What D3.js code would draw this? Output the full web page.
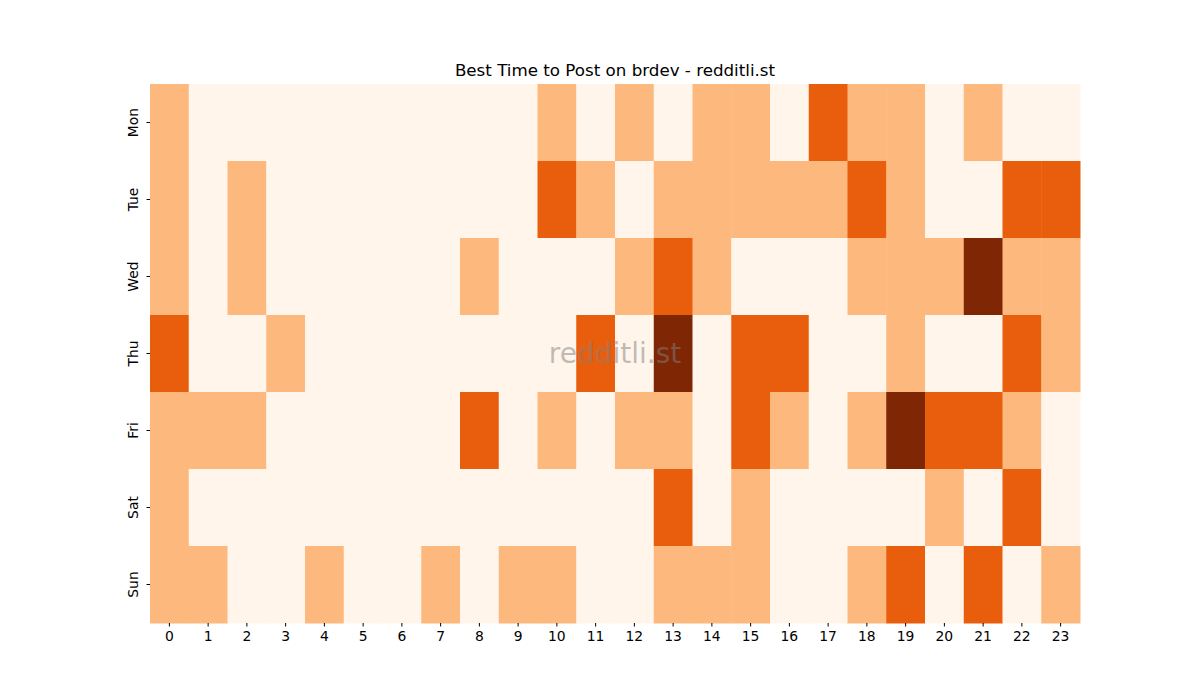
<!DOCTYPE html>
<html>
<head>
<meta charset="utf-8">
<script src="https://cdn.jsdelivr.net/npm/d3@7"></script>
<style>
  body { margin: 0; background: #fff; }
  text { font-family: "DejaVu Sans", sans-serif; }
</style>
</head>
<body>
<script>
// data: activity level per weekday x hour (0..3)
const days = ["Mon", "Tue", "Wed", "Thu", "Fri", "Sat", "Sun"];
const hours = d3.range(24);
const mon = [1,0,0,0,0,0,0,0,0,0,1,0,1,0,1,1,0,2,1,1,0,1,0,0];
const tue = [1,0,1,0,0,0,0,0,0,0,2,1,0,1,1,1,1,1,2,1,0,0,2,2];
const wed = [1,0,1,0,0,0,0,0,1,0,0,0,1,2,1,0,0,0,1,1,1,3,1,1];
const thu = [2,0,0,1,0,0,0,0,0,0,0,2,0,3,0,2,2,0,0,1,0,0,2,1];
const fri = [1,1,1,0,0,0,0,0,2,0,1,0,1,1,0,2,1,0,1,3,2,2,1,0];
const sat = [1,0,0,0,0,0,0,0,0,0,0,0,0,2,0,1,0,0,0,0,1,0,2,0];
const sun = [1,1,0,0,1,0,0,1,0,1,1,0,0,1,1,1,0,0,1,2,0,2,0,1];
const levelColors = ["#fff5eb", "#fdb97d", "#e95e0d", "#7f2704"];

const rows = [mon, tue, wed, thu, fri, sat, sun];

// dimensions
const W = 1200, H = 700;
const margin = {top: 84, right: 120, bottom: 77, left: 150};
const width = W - margin.left - margin.right;
const height = H - margin.top - margin.bottom;

const svg = d3.select("body").append("svg")
    .attr("width", W)
    .attr("height", H);

const g = svg.append("g")
    .attr("transform", "translate(" + margin.left + "," + margin.top + ")");

const x = d3.scaleBand().domain(hours).range([0, width]);
const y = d3.scaleBand().domain(days).range([0, height]);
const color = d3.scaleOrdinal().domain([0, 1, 2, 3]).range(levelColors);

const cells = [];
rows.forEach(function(r, i) {
    r.forEach(function(v, h) { cells.push({day: days[i], hour: h, value: v}); });
});

g.selectAll("rect.cell")
    .data(cells)
    .enter()
    .append("rect")
    .attr("class", "cell")
    .attr("x", d => x(d.hour))
    .attr("y", d => y(d.day))
    .attr("width", x.bandwidth() + 0.5)
    .attr("height", y.bandwidth() + 0.5)
    .attr("fill", d => color(d.value));

// axes
const xAxis = g.append("g")
    .attr("transform", "translate(0," + height + ")")
    .call(d3.axisBottom(x).tickSize(3.5).tickPadding(5));
xAxis.select(".domain").remove();
xAxis.selectAll("text").attr("font-size", "13.9px").attr("fill", "#000");

const yAxis = g.append("g")
    .call(d3.axisLeft(y).tickSize(3.5).tickPadding(5));
yAxis.select(".domain").remove();
yAxis.selectAll("text")
    .attr("font-size", "13.9px")
    .attr("fill", "#000")
    .attr("x", null).attr("dy", null)
    .attr("text-anchor", "middle")
    .attr("transform", "translate(-17,0) rotate(-90)")
    .attr("dy", "0.35em");

// title
svg.append("text")
    .attr("x", margin.left + width / 2)
    .attr("y", 76)
    .attr("text-anchor", "middle")
    .attr("font-size", "16.7px")
    .text("Best Time to Post on brdev - redditli.st");

// watermark
svg.append("text")
    .attr("x", margin.left + width / 2)
    .attr("y", margin.top + height / 2)
    .attr("text-anchor", "middle")
    .attr("dominant-baseline", "central")
    .attr("font-size", "28px")
    .attr("fill", "#808080")
    .attr("fill-opacity", 0.5)
    .text("redditli.st");
</script>
</body>
</html>
